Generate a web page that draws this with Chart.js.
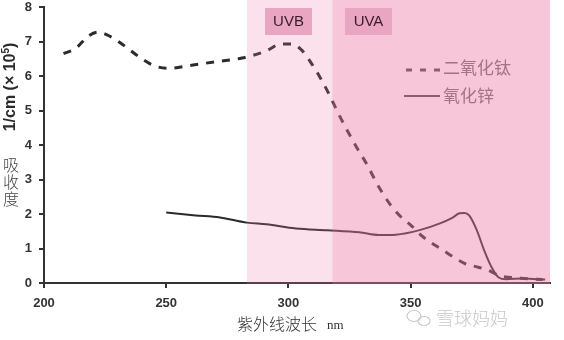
<!DOCTYPE html>
<html>
<head>
<meta charset="utf-8">
<script src="https://cdn.jsdelivr.net/npm/chart.js@4/dist/chart.umd.min.js"></script>
<style>
  html, body { margin: 0; padding: 0; background: #fff; }
  #wrap { width: 564px; height: 340px; position: relative; }
</style>
</head>
<body>
<div id="wrap"><canvas id="uv-absorb"></canvas></div>
<script>
// TiO2 (dashed) absorbance, wavelength nm / value
var tioWave = [208, 213, 218, 222, 227, 232, 240, 245, 251, 261, 271, 281, 291, 297, 301, 305, 309, 313, 317, 320,
    324, 328, 332, 337, 342, 347, 350, 355, 363, 372, 378, 382, 386, 395, 404];
var tioValue = [6.65, 6.8, 7.15, 7.27, 7.15, 6.92, 6.5, 6.3, 6.22, 6.32, 6.42, 6.52, 6.73, 6.93, 6.93, 6.78, 6.41, 5.95, 5.42, 4.97,
    4.43, 3.92, 3.45, 2.78, 2.24, 1.85, 1.68, 1.34, 0.96, 0.57, 0.45, 0.36, 0.22, 0.14, 0.1];

// ZnO (solid) absorbance
var znoWave = [250, 262, 272, 283, 291, 303, 316, 329, 337, 344, 354, 362, 367, 370, 372, 374, 377, 380, 383, 386, 389, 396, 405];
var znoValue = [2.04, 1.96, 1.90, 1.75, 1.70, 1.58, 1.53, 1.47, 1.39, 1.40, 1.54, 1.73, 1.89, 2.02, 2.03, 1.95, 1.54, 0.96, 0.47, 0.16, 0.11, 0.13, 0.10];

var seriesNames = ['二氧化钛', '氧化锌'];
var xTicks = [200, 250, 300, 350, 400];

// UV bands: [label, from nm, to nm]
var bandNames = ['UVB', 'UVA'];
var bandFrom = [283, 318];
var bandTo = [318, 407];

function pairs(xs, ys) {
    return xs.map(function (x, i) { return { x: x, y: ys[i] }; });
}

var inkColor = '#2b2b2b';

var overlayPlugin = {
    id: 'uvOverlay',
    afterDatasetsDraw: function (chart) {
        var ctx = chart.ctx;
        var xs = chart.scales.x;
        var area = chart.chartArea;
        ctx.save();

        // legend, drawn under the pink so it picks up the tint
        ctx.font = '17px "Noto Sans CJK SC"';
        ctx.textBaseline = 'middle';
        ctx.fillStyle = '#707070';
        ctx.strokeStyle = '#4a4a4a';
        ctx.lineWidth = 3;
        ctx.setLineDash([6, 8]);
        ctx.beginPath(); ctx.moveTo(406, 70); ctx.lineTo(440, 70); ctx.stroke();
        ctx.setLineDash([]);
        ctx.lineWidth = 2;
        ctx.beginPath(); ctx.moveTo(404, 96); ctx.lineTo(440, 96); ctx.stroke();
        ctx.fillText(seriesNames[0], 443, 68);
        ctx.fillText(seriesNames[1], 443, 96);

        // translucent UV bands laid over lines and axis
        var alphas = [0.22, 0.42];
        for (var i = 0; i < bandNames.length; i++) {
            var l = xs.getPixelForValue(bandFrom[i]);
            var r = xs.getPixelForValue(bandTo[i]);
            ctx.fillStyle = 'rgba(235,120,165,' + alphas[i] + ')';
            ctx.fillRect(l, 0, r - l, area.bottom + 1);
        }

        // band labels
        var boxX = [265, 345];
        ctx.font = '15px "Liberation Sans"';
        ctx.textAlign = 'center';
        for (var j = 0; j < bandNames.length; j++) {
            ctx.fillStyle = '#e9a6c2';
            ctx.fillRect(boxX[j], 8, 47, 27);
            ctx.fillStyle = '#3a1a2a';
            ctx.fillText(bandNames[j], boxX[j] + 23.5, 22);
        }

        // y title, rotated
        ctx.save();
        ctx.translate(11, 87);
        ctx.rotate(-Math.PI / 2);
        ctx.fillStyle = '#2b2b2b';
        ctx.font = 'bold 16px "Liberation Sans"';
        ctx.textAlign = 'left';
        var t1 = '1/cm (\u00d7 10';
        var w1 = ctx.measureText(t1).width;
        ctx.font = 'bold 10px "Liberation Sans"';
        var w2 = ctx.measureText('5').width;
        ctx.font = 'bold 16px "Liberation Sans"';
        var w3 = ctx.measureText(')').width;
        var start = -(w1 + w2 + w3) / 2;
        ctx.fillText(t1, start, 0);
        ctx.font = 'bold 10px "Liberation Sans"';
        ctx.fillText('5', start + w1, -5);
        ctx.font = 'bold 16px "Liberation Sans"';
        ctx.fillText(')', start + w1 + w2, 0);
        ctx.restore();

        // stacked CJK label
        ctx.fillStyle = '#444';
        ctx.font = '300 16px "Noto Sans CJK SC"';
        ctx.textAlign = 'center';
        ['吸', '收', '度'].forEach(function (ch, k) {
            ctx.fillText(ch, 11, 165 + k * 17);
        });

        // x title
        ctx.fillStyle = '#333';
        ctx.textAlign = 'left';
        ctx.font = '300 16px "Noto Sans CJK SC"';
        ctx.fillText('紫外线波长', 237, 324);
        ctx.font = '13px "Liberation Serif"';
        ctx.fillText('nm', 327, 326);

        // watermark
        ctx.fillStyle = '#c8c8c8';
        ctx.strokeStyle = '#c8c8c8';
        ctx.lineWidth = 1.2;
        ctx.beginPath(); ctx.ellipse(414, 316, 7, 5.5, 0, 0, Math.PI * 2); ctx.stroke();
        ctx.beginPath(); ctx.ellipse(424, 321, 6, 4.5, 0, 0, Math.PI * 2); ctx.stroke();
        ctx.font = '300 18px "Noto Sans CJK SC"';
        ctx.fillText('雪球妈妈', 436, 318);

        ctx.restore();
    }
};

var ctx = document.getElementById('uv-absorb').getContext('2d');
var chart = new Chart(ctx, {
    type: 'line',
    data: {
        datasets: [
            {
                label: seriesNames[0],
                data: pairs(tioWave, tioValue),
                borderColor: inkColor,
                borderWidth: 3,
                borderDash: [8, 8],
                pointRadius: 0,
                cubicInterpolationMode: 'monotone',
                fill: false
            },
            {
                label: seriesNames[1],
                data: pairs(znoWave, znoValue),
                borderColor: inkColor,
                borderWidth: 2,
                pointRadius: 0,
                cubicInterpolationMode: 'monotone',
                fill: false
            }
        ]
    },
    options: {
        responsive: true,
        maintainAspectRatio: false,
        animation: false,
        layout: { padding: { top: 7, right: 14, left: 0, bottom: 0 } },
        plugins: {
            legend: { display: false },
            tooltip: { enabled: false }
        },
        scales: {
            x: {
                type: 'linear',
                min: 200,
                max: 407,
                afterBuildTicks: function (scale) {
                    scale.ticks = xTicks.map(function (v) { return { value: v }; });
                },
                afterFit: function (scale) {
                    scale.height = 57;
                    scale.paddingLeft = 0;
                    scale.paddingRight = 0;
                },
                border: { color: '#333', width: 2 },
                grid: { drawOnChartArea: false, drawTicks: true, tickLength: 5, tickColor: '#333', lineWidth: 2 },
                ticks: {
                    padding: 8,
                    color: '#333',
                    font: { family: 'Liberation Sans', size: 13, weight: 'bold' }
                }
            },
            y: {
                min: 0,
                max: 8,
                afterFit: function (scale) {
                    scale.width = 44;
                    scale.paddingTop = 0;
                    scale.paddingBottom = 0;
                },
                border: { color: '#333', width: 2 },
                grid: { drawOnChartArea: false, drawTicks: true, tickLength: 5, tickColor: '#333', lineWidth: 2 },
                ticks: {
                    stepSize: 1,
                    padding: 7,
                    color: '#333',
                    font: { family: 'Liberation Sans', size: 13, weight: 'bold' }
                }
            }
        }
    },
    plugins: [overlayPlugin]
});
</script>
</body>
</html>
